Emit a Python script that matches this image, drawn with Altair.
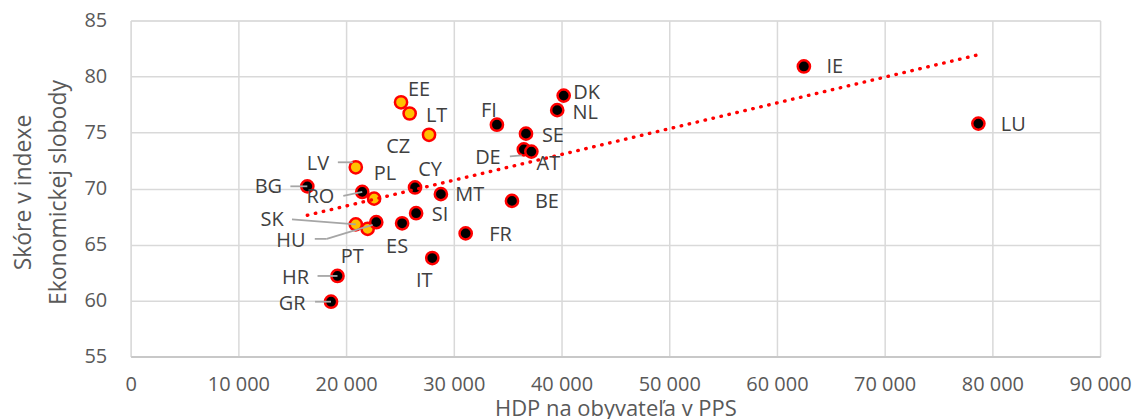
import altair as alt
import pandas as pd

countries = ["EE", "LT", "CZ", "LV", "PL", "SK", "HU", "BG", "RO", "CY", "MT", "SI", "BE", "FI",
             "SE", "DE", "AT", "NL", "DK", "PT", "ES", "FR", "IT", "HR", "GR", "IE", "LU"]
gdp = [25100, 25900, 27700, 20900, 22600, 20900, 22000, 16400, 21500, 26400, 28800, 26500, 35400, 34000,
       36700, 36500, 37200, 39600, 40200, 22800, 25200, 31100, 28000, 19200, 18600, 62500, 78700]
score = [77.7, 76.7, 74.8, 71.9, 69.1, 66.8, 66.4, 70.2, 69.7, 70.1, 69.5, 67.8, 68.9, 75.7,
         74.9, 73.5, 73.3, 77.0, 78.3, 67.0, 66.9, 66.0, 63.8, 62.2, 59.9, 80.9, 75.8]
highlight = ["EE", "LT", "CZ", "LV", "PL", "SK", "HU"]

x_ticks = [0, 10000, 20000, 30000, 40000, 50000, 60000, 70000, 80000, 90000]
y_ticks = [55, 60, 65, 70, 75, 80, 85]

# label placement (pixel offsets from the point)
label_off = {"EE": (18, -12), "LT": (27, 3), "CZ": (-31, 12), "LV": (-38, -3), "PL": (11, -25),
             "SK": (-84, -4), "HU": (-77, 12), "BG": (-39, 1), "RO": (-42, 5), "CY": (15, -17),
             "MT": (29, 1), "SI": (24, 2), "BE": (35, 1), "FI": (-8, -14), "SE": (27, 2),
             "DE": (-36, 9), "AT": (17, 12), "NL": (28, 3), "DK": (23, -3), "PT": (-24, 35),
             "ES": (-5, 24), "FR": (35, 2), "IT": (-8, 23), "HR": (-42, 2), "GR": (-39, 2),
             "IE": (31, 1), "LU": (35, 1)}
# leader lines: (country, start offset, end offset) in pixels
leaders = [("LV", (-18, -5), (-3, -5)), ("BG", (-17, 0), (0, 0)), ("RO", (-19, 4), (0, 0)),
           ("DE", (-14, 7), (-2, 6)), ("SK", (-64, -5), (0, 0)), ("HU", (-53, 10), (-41, 10)),
           ("HU", (-41, 10), (5, -4)), ("HR", (-20, 0), (0, 0)), ("GR", (-16, 0), (0, 0))]

W, H = 972, 337
XMAX, YMIN, YMAX = 90000, 55, 85
kx = XMAX / W
ky = (YMAX - YMIN) / H

df = pd.DataFrame({"country": countries, "gdp": gdp, "score": score})
df["grp"] = ["V4+Baltic" if c in highlight else "other" for c in countries]
df["lx"] = [g + label_off[c][0] * kx for c, g in zip(countries, gdp)]
df["ly"] = [s - label_off[c][1] * ky for c, s in zip(countries, score)]

pos = dict(zip(countries, zip(gdp, score)))
lead_rows = []
for c, (sx, sy), (ex, ey) in leaders:
    g, s = pos[c]
    lead_rows.append({"x1": g + sx * kx, "y1": s - sy * ky, "x2": g + ex * kx, "y2": s - ey * ky})
ldf = pd.DataFrame(lead_rows)

FONT = "Open Sans"
xscale = alt.Scale(domain=[0, XMAX], nice=False)
yscale = alt.Scale(domain=[YMIN, YMAX], nice=False, zero=False)

xaxis = alt.Axis(values=x_ticks, title="HDP na obyvateľa v PPS", grid=True, gridColor="#d9d9d9",
                 gridWidth=1.5, domain=True, domainColor="#c8c8c8", domainWidth=2, ticks=False,
                 labelPadding=18, labelFontSize=20, labelColor="#595959", labelFont=FONT,
                 labelFlush=False, labelOverlap=False,
                 labelExpr="replace(format(datum.value, ',d'), ',', ' ')",
                 titleFont=FONT, titleFontSize=22, titleColor="#595959", titleFontWeight="normal",
                 titleY=59, titleBaseline="alphabetic")
yaxis = alt.Axis(values=y_ticks, title=["Skóre v indexe", "Ekonomickej slobody"], grid=True,
                 gridColor="#d9d9d9", gridWidth=1.5, domain=False, ticks=False, labelPadding=24,
                 labelFontSize=20, labelColor="#595959", labelFont=FONT,
                 labelFlush=False, labelOverlap=False,
                 titleFont=FONT, titleFontSize=23, titleColor="#595959", titleFontWeight="normal",
                 titleAngle=270, titleX=-107, titleY=172, titleBaseline="middle", titleLineHeight=35,
                 titleAlign="center")

base = alt.Chart(df)
points = base.mark_point(filled=True, size=150, stroke="#ff0000", strokeWidth=2.5, opacity=1).encode(
    x=alt.X("gdp:Q", scale=xscale, axis=xaxis),
    y=alt.Y("score:Q", scale=yscale, axis=yaxis),
    fill=alt.Fill("grp:N", scale=alt.Scale(domain=["V4+Baltic", "other"], range=["#ffc000", "#000000"]),
                  legend=None),
)
trend = base.transform_regression("gdp", "score").mark_line(
    color="#ff0000", strokeWidth=3.4, strokeDash=[0.5, 7.7], strokeCap="round"
).encode(x=alt.X("gdp:Q", scale=xscale), y=alt.Y("score:Q", scale=yscale))

lead = alt.Chart(ldf).mark_rule(color="#a6a6a6", strokeWidth=1.8).encode(
    x=alt.X("x1:Q", scale=xscale), y=alt.Y("y1:Q", scale=yscale), x2="x2:Q", y2="y2:Q"
)
labels = base.mark_text(font=FONT, fontSize=20, color="#404040", align="center", baseline="middle").encode(
    x=alt.X("lx:Q", scale=xscale), y=alt.Y("ly:Q", scale=yscale), text="country:N"
)

chart = alt.layer(points, trend, lead, labels).properties(
    width=W, height=H,
    autosize=alt.AutoSizeParams(type="none"),
    padding={"left": 123, "top": 12, "right": 34, "bottom": 62},
).configure_view(stroke=None).configure(background="white")

chart.save("out.html", embed_options={"renderer": "svg", "actions": False})
